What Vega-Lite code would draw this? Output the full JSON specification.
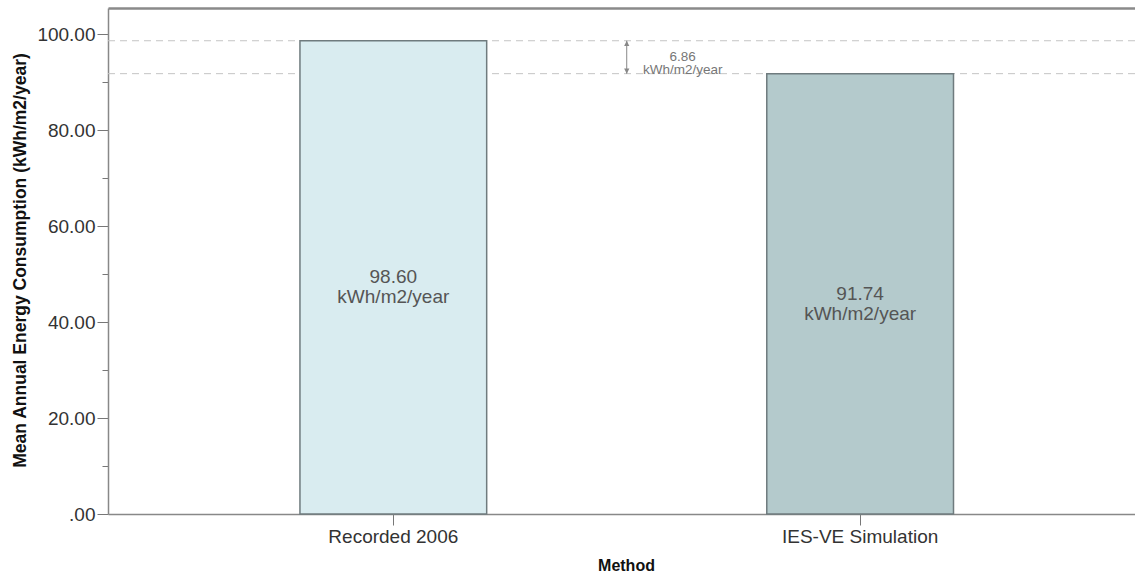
{
  "$schema": "https://vega.github.io/schema/vega-lite/v6.json",
  "width": 1027,
  "height": 506,
  "autosize": "none",
  "padding": {"left": 108, "top": 8, "right": 0, "bottom": 59},
  "background": "white",
  "config": {
    "view": {"stroke": null},
    "font": "Liberation Sans"
  },
  "datasets": {
    "bars": [
      {"method": "Recorded 2006", "value": 98.60},
      {"method": "IES-VE Simulation", "value": 91.74}
    ],
    "gap": [
      {"method": "Recorded 2006", "high": 98.60, "low": 91.74, "diff": 6.86}
    ]
  },
  "resolve": {"axis": {"x": "independent"}},
  "layer": [
    {
      "data": {"name": "bars"},
      "mark": {"type": "rule", "strokeDash": [7, 5], "color": "#c4c4c4", "strokeWidth": 1},
      "encoding": {
        "y": {"field": "value", "type": "quantitative"}
      }
    },
    {
      "data": {"name": "bars"},
      "mark": {"type": "bar", "stroke": "#6f7b7e", "strokeWidth": 1.5},
      "encoding": {
        "x": {
          "field": "method", "type": "nominal", "sort": null,
          "scale": {"domain": ["Recorded 2006", "IES-VE Simulation"], "paddingInner": 0.6, "paddingOuter": 0.4, "align": 0.514},
          "axis": {
            "title": "Method", "labelAngle": 0, "labelFontSize": 19, "labelColor": "#333",
            "labelPadding": 2, "tickSize": 11, "tickColor": "#777", "domainColor": "#888", "domainWidth": 1.5,
            "titleFontSize": 16, "titleFontWeight": "bold", "titleColor": "#111",
            "titleX": 518, "titleY": 51, "titleBaseline": "middle"
          }
        },
        "y": {
          "field": "value", "type": "quantitative",
          "scale": {"domain": [0, 105.42], "nice": false, "zero": true},
          "axis": {
            "title": "Mean Annual Energy Consumption (kWh/m2/year)",
            "values": [0, 10, 20, 30, 40, 50, 60, 70, 80, 90, 100],
            "labelExpr": "datum.value % 20 != 0 ? '' : (datum.value == 0 ? '.00' : format(datum.value, '.2f'))",
            "labelFontSize": 19, "labelColor": "#333", "labelPadding": 2,
            "tickSize": {"condition": {"test": "datum.value % 20 == 0", "value": 11}, "value": 6},
            "tickColor": "#777", "domainColor": "#888", "domainWidth": 1.5, "grid": false,
            "titleFontSize": 17.5, "titleFontWeight": "bold", "titleColor": "#111",
            "titleX": -88, "titleY": 252, "titleBaseline": "middle"
          }
        },
        "color": {
          "field": "method", "type": "nominal", "legend": null,
          "scale": {"domain": ["Recorded 2006", "IES-VE Simulation"], "range": ["#d9ecf0", "#b4cacc"]}
        }
      }
    },
    {
      "data": {"name": "bars"},
      "transform": [
        {"calculate": "datum.value / 2", "as": "mid"},
        {"calculate": "format(datum.value, '.2f') + '\\n' + 'kWh/m2/year'", "as": "label"}
      ],
      "mark": {"type": "text", "fontSize": 19, "color": "#555", "lineBreak": "\n", "lineHeight": 20, "baseline": "middle", "align": "center"},
      "encoding": {
        "x": {"field": "method", "type": "nominal", "sort": null, "axis": null},
        "y": {"field": "mid", "type": "quantitative"},
        "text": {"field": "label"}
      }
    },
    {
      "data": {"name": "gap"},
      "mark": {"type": "rule", "color": "#888", "strokeWidth": 1},
      "encoding": {
        "x": {"field": "method", "type": "nominal", "sort": null, "bandPosition": 1.75,
          "axis": {"orient": "top", "labels": false, "ticks": false, "title": null, "domainColor": "#8a8a8a", "domainWidth": 2.5}},
        "y": {"field": "high", "type": "quantitative"},
        "y2": {"field": "low"}
      }
    },
    {
      "data": {"name": "gap"},
      "mark": {"type": "point", "shape": "M0,0L-0.5,1L0.5,1Z", "filled": true, "color": "#888", "size": 110, "opacity": 1},
      "encoding": {
        "x": {"field": "method", "type": "nominal", "sort": null, "bandPosition": 1.75, "axis": null},
        "y": {"field": "high", "type": "quantitative"}
      }
    },
    {
      "data": {"name": "gap"},
      "mark": {"type": "point", "shape": "M0,0L-0.5,-1L0.5,-1Z", "filled": true, "color": "#888", "size": 110, "opacity": 1},
      "encoding": {
        "x": {"field": "method", "type": "nominal", "sort": null, "bandPosition": 1.75, "axis": null},
        "y": {"field": "low", "type": "quantitative"}
      }
    },
    {
      "data": {"name": "gap"},
      "transform": [
        {"calculate": "(datum.high + datum.low) / 2", "as": "mid"},
        {"calculate": "format(datum.diff, '.2f') + '\\n' + 'kWh/m2/year'", "as": "label"}
      ],
      "mark": {"type": "text", "fontSize": 13.5, "color": "#777", "lineBreak": "\n", "lineHeight": 13, "baseline": "middle", "align": "center", "dx": 56, "dy": -0.5},
      "encoding": {
        "x": {"field": "method", "type": "nominal", "sort": null, "bandPosition": 1.75, "axis": null},
        "y": {"field": "mid", "type": "quantitative"},
        "text": {"field": "label"}
      }
    }
  ]
}
